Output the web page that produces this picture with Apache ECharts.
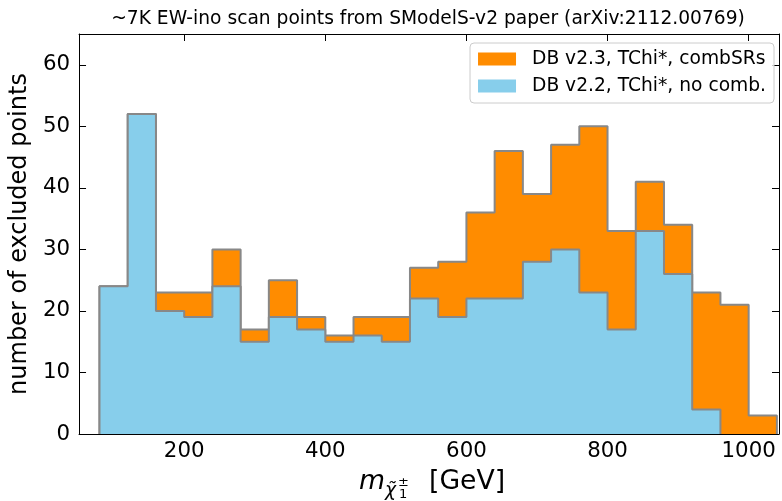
<!DOCTYPE html>
<html><head><meta charset="utf-8">
<script src="https://cdn.jsdelivr.net/npm/echarts@6/dist/echarts.min.js"></script>
<style>html,body{margin:0;padding:0;background:#fff}#c{width:782px;height:501px}</style>
</head><body><div id="c"></div>
<script>
const binEdges = [80,120,160,200,240,280,320,360,400,440,480,520,560,600,640,680,720,760,800,840,880,920,960,1000,1040];
const countsV23 = [24,52,23,23,30,17,25,19,16,19,19,27,28,36,46,39,47,50,33,41,34,23,21,3];
const countsV22 = [24,52,20,19,24,15,19,17,15,16,15,22,19,22,22,28,30,23,17,33,26,4,0,0];
const seriesNames = ['DB v2.3, TChi*, combSRs', 'DB v2.2, TChi*, no comb.'];
const xTicks = [200, 400, 600, 800, 1000];
const yTicks = [0, 10, 20, 30, 40, 50, 60];
const titleText = '~7K EW-ino scan points from SModelS-v2 paper (arXiv:2112.00769)';
const yLabel = 'number of excluded points';

function stepPoints(counts) {
  let last = counts.length - 1;
  while (last > 0 && counts[last] === 0) last--;
  const pts = [[binEdges[0], 0]];
  for (let i = 0; i <= last; i++) pts.push([binEdges[i], counts[i]]);
  pts.push([binEdges[last + 1], counts[last]]);
  pts.push([binEdges[last + 1], 0]);
  return pts;
}

const FONT = 'DejaVu Sans';
const chart = echarts.init(document.getElementById('c'), null, {renderer: 'canvas'});
const axisCommon = {
  type: 'value', min: 51, max: 1043,
  axisLine: {show: true, onZero: false, lineStyle: {color: '#000', width: 1}},
  splitLine: {show: false}
};
const yCommon = {
  type: 'value', min: 0, max: 65,
  axisLine: {show: true, onZero: false, lineStyle: {color: '#000', width: 1}},
  splitLine: {show: false}
};
chart.setOption({
  animation: false,
  backgroundColor: '#fff',
  grid: {left: 75, right: 3, top: 34, bottom: 67, containLabel: false},
  legend: {
    data: seriesNames,
    orient: 'vertical', right: 8, top: 43,
    icon: 'rect', itemWidth: 38, itemHeight: 13, itemGap: 5,
    padding: [5, 8, 6, 8],
    backgroundColor: 'rgba(255,255,255,0.8)',
    borderColor: '#cccccc', borderWidth: 1, borderRadius: 4,
    itemStyle: {borderWidth: 0},
    textStyle: {fontFamily: FONT, fontSize: 18.67, color: '#000', lineHeight: 22, padding: [0, 0, 0, 11]}
  },
  xAxis: [
    Object.assign({}, axisCommon, {
      position: 'bottom',
      axisTick: {show: true, inside: true, length: 7, customValues: xTicks, lineStyle: {color: '#000'}},
      axisLabel: {show: true, customValues: xTicks, formatter: v => String(v), fontFamily: FONT, fontSize: 21.33, color: '#000', margin: 7}
    }),
    Object.assign({}, axisCommon, {
      position: 'top',
      axisTick: {show: true, inside: true, length: 7, customValues: xTicks, lineStyle: {color: '#000'}},
      axisLabel: {show: false}
    })
  ],
  yAxis: [
    Object.assign({}, yCommon, {
      position: 'left',
      name: yLabel, nameLocation: 'middle', nameGap: 39, nameRotate: 90,
      nameTextStyle: {fontFamily: FONT, fontSize: 24, color: '#000'},
      axisTick: {show: true, inside: true, length: 7, customValues: yTicks, lineStyle: {color: '#000'}},
      axisLabel: {show: true, customValues: yTicks, fontFamily: FONT, fontSize: 21.33, color: '#000', margin: 9}
    }),
    Object.assign({}, yCommon, {
      position: 'right',
      axisTick: {show: true, inside: true, length: 7, customValues: yTicks, lineStyle: {color: '#000'}},
      axisLabel: {show: false}
    })
  ],
  series: [
    {
      name: seriesNames[0], type: 'line', step: 'end', symbol: 'none',
      xAxisIndex: 0, yAxisIndex: 0, z: 2,
      data: stepPoints(countsV23),
      itemStyle: {color: '#ff8c00'},
      lineStyle: {color: '#888888', width: 2},
      areaStyle: {color: '#ff8c00', opacity: 1}
    },
    {
      name: seriesNames[1], type: 'line', step: 'end', symbol: 'none',
      xAxisIndex: 0, yAxisIndex: 0, z: 3,
      data: stepPoints(countsV22),
      itemStyle: {color: '#87ceeb'},
      lineStyle: {color: '#888888', width: 2},
      areaStyle: {color: '#87ceeb', opacity: 1}
    }
  ],
  graphic: [
    {type: 'text', x: 428, y: 19, z: 10, style: {text: titleText, font: '18.67px "DejaVu Sans"', fill: '#000', textAlign: 'center', textVerticalAlign: 'middle'}},
    {type: 'text', x: 359, y: 482, z: 10, style: {text: 'm', font: 'italic 26.7px "DejaVu Sans"', fill: '#000', textVerticalAlign: 'middle'}},
    {type: 'text', x: 385, y: 491, z: 10, style: {text: 'χ̃', font: 'italic 18.7px "DejaVu Sans"', fill: '#000', textVerticalAlign: 'middle'}},
    {type: 'text', x: 398, y: 483, z: 10, style: {text: '±', font: '13px "DejaVu Sans"', fill: '#000', textVerticalAlign: 'middle'}},
    {type: 'text', x: 399, y: 495, z: 10, style: {text: '1', font: '13px "DejaVu Sans"', fill: '#000', textVerticalAlign: 'middle'}},
    {type: 'text', x: 429, y: 482, z: 10, style: {text: '[GeV]', font: '26.7px "DejaVu Sans"', fill: '#000', textVerticalAlign: 'middle'}}
  ]
});
</script></body></html>
